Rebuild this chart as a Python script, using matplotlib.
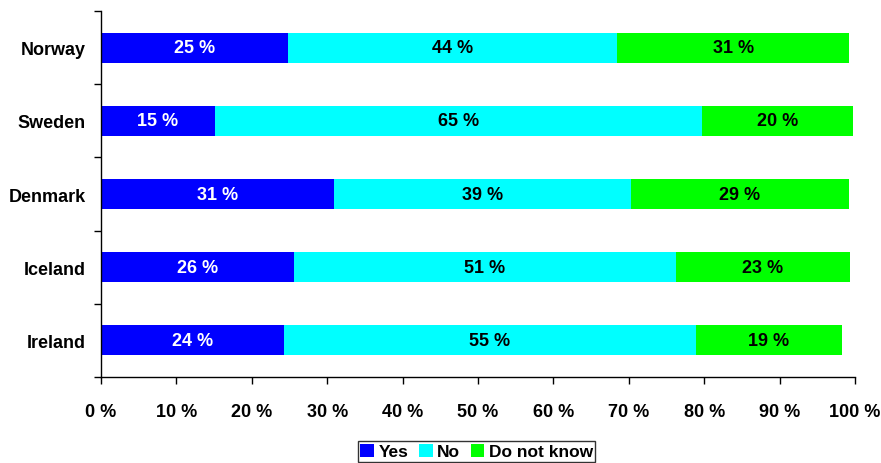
import numpy as np
import matplotlib.pyplot as plt
from matplotlib.patches import Patch

countries = ["Norway", "Sweden", "Denmark", "Iceland", "Ireland"]
yes = [24.8, 15.1, 30.9, 25.6, 24.3]
no = [43.7, 64.6, 39.4, 50.6, 54.6]
dont_know = [30.7, 20.0, 28.9, 23.2, 19.4]
series_names = ["Yes", "No", "Do not know"]
colors = ["#0000ff", "#00ffff", "#00ff00"]
label_colors = ["white", "black", "black"]
xticks = [0, 10, 20, 30, 40, 50, 60, 70, 80, 90, 100]

plt.rcParams['font.family'] = ['Liberation Sans', 'DejaVu Sans']
plt.rcParams['font.weight'] = 'bold'

fig = plt.figure(figsize=(8.81, 4.64), dpi=100)
ax = fig.add_axes([0.1146, 0.1853, 0.8559, 0.7888])

n = len(countries)
y = np.arange(n)[::-1]  # Norway at top
left = np.zeros(n)
for vals, col, lc in zip([yes, no, dont_know], colors, label_colors):
    vals = np.array(vals)
    ax.barh(y, vals, left=left, height=0.41, color=col, edgecolor='none')
    for yi, l, v in zip(y, left, vals):
        ax.text(l + v / 2, yi, f"{int(np.floor(v + 0.5))} %", ha='center', va='center',
                color=lc, fontsize=13, fontweight='bold')
    left += vals

ax.set_xlim(0, 100)
ax.set_ylim(-0.5, n - 0.5)

ax.set_xticks(xticks)
ax.set_xticklabels([f"{t} %" for t in xticks], fontsize=13, fontweight='bold')
ax.tick_params(axis='x', direction='out', length=5, width=1, pad=14)

# major y ticks at band boundaries, labels at bar centres
ax.set_yticks(np.arange(n + 1) - 0.5)
ax.set_yticklabels([])
ax.tick_params(axis='y', which='major', direction='out', length=5, width=1)
ax.set_yticks(y, minor=True)
ax.set_yticklabels(countries, minor=True, fontsize=13, fontweight='bold')
ax.tick_params(axis='y', which='minor', length=0, pad=11)

for s in ['top', 'right']:
    ax.spines[s].set_visible(False)
for s in ['left', 'bottom']:
    ax.spines[s].set_linewidth(1)

handles = [Patch(facecolor=c, edgecolor='none') for c in colors]
leg = fig.legend(handles, series_names, loc='lower center', bbox_to_anchor=(0.541, 0.002),
                 ncol=3, frameon=True, fancybox=False, edgecolor='black',
                 prop={'size': 12.5, 'weight': 'bold'}, handlelength=0.8, handleheight=0.8,
                 handletextpad=0.25, columnspacing=0.6, borderpad=0.15, borderaxespad=0.0)
leg.get_frame().set_linewidth(1)

fig.savefig("out.png", dpi=100)
